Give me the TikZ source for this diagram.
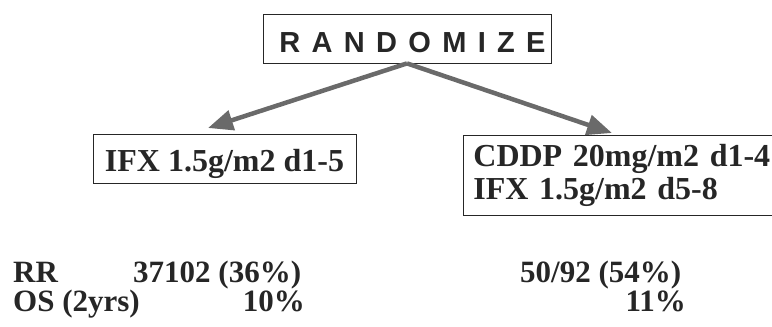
\documentclass[tikz,border=0pt]{standalone}
\usepackage{fontspec}
\setmainfont{Liberation Serif}
\newfontfamily\randfont{Liberation Sans}[LetterSpace=39]
\usetikzlibrary{arrows.meta}
\definecolor{ink}{HTML}{262626}
\definecolor{arrowgray}{HTML}{6A6A6A}
\begin{document}
\begin{tikzpicture}[x=1pt,y=-1pt,
  box/.style={draw=ink, line width=0.8pt, inner sep=0pt},
  txt/.style={font=\bfseries\fontsize{32}{25}\selectfont, text=ink},
  plain/.style={font=\bfseries\fontsize{31}{27}\selectfont, text=ink, inner sep=0pt, text height=21pt, text depth=3pt},
  arr/.style={draw=arrowgray, line width=4.5pt, -{Triangle[length=25pt,width=20pt]}}]
\useasboundingbox (0,0) rectangle (772,327);
% top box
\node[box, minimum width=288pt, minimum height=49pt, text height=27pt, text depth=0pt,
      font=\randfont\bfseries\fontsize{29}{30}\selectfont, text=ink] (rand) at (407,38.5) {\kern11pt RANDOMIZE};
% arm boxes
\node[box, txt, minimum width=263pt, minimum height=49pt, text height=25pt, text depth=0pt] (left) at (224.5,158.5) {IFX 1.5g/m2 d1-5};
\node[box, txt, anchor=north west, inner xsep=10pt, inner ysep=0pt, text width=300pt, align=left, minimum height=80pt] (right) at (463,135) {CDDP 20mg/m2 d1-4\\ \kern2pt IFX 1.5g/m2 d5-8};
% arrows
\coordinate (ltip) at (208,128);
\coordinate (rtip) at (612,133);
\draw[arr] (rand.south) -- (ltip);
\draw[arr] (rand.south) -- (rtip);
% results
\node[plain, anchor=base west] (rr) at (13,282) {RR};
\node[plain, anchor=base west] (rrl) at (133,282) {37102 (36\%)};
\node[plain, anchor=base west] (rrr) at (520,282) {50/92 (54\%)};
\node[plain, anchor=base west] (os) at (13,311) {OS (2yrs)};
\node[plain, anchor=base east] (osl) at (305,311) {10\%};
\node[plain, anchor=base east] (osr) at (686,311) {11\%};
\end{tikzpicture}
\end{document}
